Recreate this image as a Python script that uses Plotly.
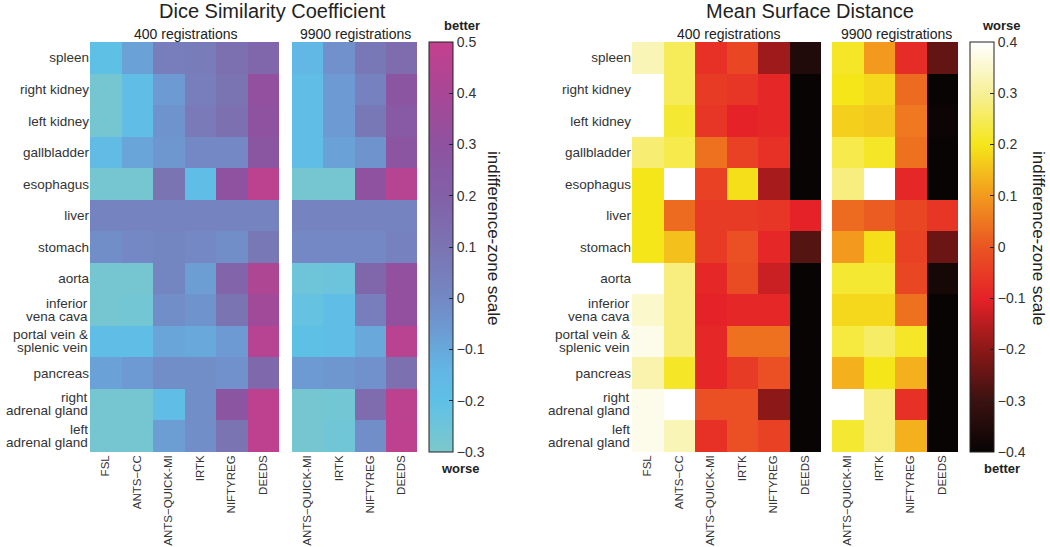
import plotly.graph_objects as go

organs = ["spleen", "right kidney", "left kidney", "gallbladder", "esophagus", "liver",
          "stomach", "aorta", "inferior<br>vena cava", "portal vein &<br>splenic vein",
          "pancreas", "right<br>adrenal gland", "left<br>adrenal gland"]
methods_400 = ["FSL", "ANTS\u2212CC", "ANTS\u2212QUICK-MI", "IRTK", "NIFTYREG", "DEEDS"]
methods_9900 = ["ANTS\u2212QUICK-MI", "IRTK", "NIFTYREG", "DEEDS"]

# Dice similarity coefficient, indifference-zone scale
dsc_400 = [
    [-0.20, -0.08, 0.05, 0.06, 0.12, 0.17],
    [-0.28, -0.18, -0.06, 0.05, 0.10, 0.32],
    [-0.28, -0.18, -0.04, 0.07, 0.12, 0.30],
    [-0.17, -0.09, -0.05, 0.00, 0.00, 0.27],
    [-0.28, -0.28, 0.10, -0.18, 0.30, 0.47],
    [0.02, 0.02, 0.02, 0.02, 0.02, 0.02],
    [-0.02, 0.00, 0.01, 0.00, -0.02, 0.08],
    [-0.28, -0.28, 0.01, -0.07, 0.18, 0.42],
    [-0.28, -0.27, -0.02, -0.04, 0.10, 0.37],
    [-0.18, -0.18, -0.09, -0.10, -0.06, 0.45],
    [-0.08, -0.06, -0.02, -0.02, -0.03, 0.16],
    [-0.28, -0.28, -0.18, -0.02, 0.28, 0.48],
    [-0.28, -0.28, -0.07, -0.02, 0.10, 0.48],
]
dsc_9900 = [
    [-0.15, -0.03, 0.08, 0.14],
    [-0.18, -0.06, 0.03, 0.28],
    [-0.18, -0.06, 0.08, 0.25],
    [-0.18, -0.08, -0.04, 0.28],
    [-0.28, -0.28, 0.30, 0.45],
    [0.02, 0.02, 0.02, 0.02],
    [0.00, 0.00, 0.00, 0.03],
    [-0.25, -0.24, 0.17, 0.32],
    [-0.22, -0.18, 0.05, 0.32],
    [-0.20, -0.18, -0.10, 0.46],
    [-0.06, -0.05, -0.03, 0.12],
    [-0.28, -0.27, 0.14, 0.47],
    [-0.28, -0.26, -0.02, 0.48],
]

# Mean surface distance, indifference-zone scale
msd_400 = [
    [0.33, 0.25, -0.07, -0.03, -0.18, -0.35],
    [0.40, 0.25, -0.05, -0.06, -0.09, -0.40],
    [0.40, 0.22, -0.06, -0.10, -0.09, -0.40],
    [0.27, 0.24, 0.04, -0.04, -0.07, -0.40],
    [0.20, 0.40, -0.04, 0.19, -0.17, -0.40],
    [0.20, 0.03, -0.05, -0.05, -0.06, -0.10],
    [0.20, 0.15, -0.05, -0.01, -0.09, -0.27],
    [0.40, 0.28, -0.09, -0.02, -0.13, -0.40],
    [0.35, 0.28, -0.10, -0.09, -0.09, -0.40],
    [0.38, 0.28, -0.09, 0.04, 0.04, -0.40],
    [0.32, 0.21, -0.09, -0.05, -0.01, -0.40],
    [0.38, 0.40, -0.01, -0.01, -0.20, -0.40],
    [0.38, 0.33, -0.07, -0.01, -0.04, -0.40],
]
msd_9900 = [
    [0.21, 0.10, -0.08, -0.25],
    [0.20, 0.18, 0.03, -0.40],
    [0.17, 0.16, 0.05, -0.39],
    [0.24, 0.21, 0.04, -0.40],
    [0.28, 0.40, -0.09, -0.40],
    [0.03, 0.01, -0.03, -0.06],
    [0.10, 0.19, -0.04, -0.24],
    [0.22, 0.22, -0.03, -0.37],
    [0.18, 0.18, 0.04, -0.40],
    [0.23, 0.26, 0.21, -0.40],
    [0.13, 0.20, 0.13, -0.40],
    [0.40, 0.28, -0.07, -0.40],
    [0.22, 0.28, 0.13, -0.40],
]

dsc_ticks = [-0.3, -0.2, -0.1, 0, 0.1, 0.2, 0.3, 0.4, 0.5]
msd_ticks = [-0.4, -0.3, -0.2, -0.1, 0, 0.1, 0.2, 0.3, 0.4]

dsc_scale = [
    [0.0, "#7cc8cc"], [0.125, "#5fc0e6"], [0.2, "#62b6e4"], [0.3, "#6d9ad2"],
    [0.375, "#7388c4"], [0.5, "#7b74b2"], [0.625, "#8260a8"], [0.75, "#8e52a0"],
    [0.875, "#a84796"], [1.0, "#c4408e"],
]
msd_scale = [
    [0.0, "#080404"], [0.125, "#3a1210"], [0.25, "#8c1818"], [0.375, "#e52228"],
    [0.5, "#ea5522"], [0.625, "#f39a1e"], [0.75, "#f5e61a"], [0.875, "#f7f098"],
    [1.0, "#ffffff"],
]

FONT = "Liberation Sans, Arial, sans-serif"
W, H = 1050, 547


def px(x):
    return x / W


def py(y):
    return 1 - y / H


def fmt(v):
    return f"{v:g}".replace("-", "\u2212")


fig = go.Figure()
fig.add_trace(go.Heatmap(z=dsc_400, x=methods_400, y=organs, coloraxis="coloraxis",
                         xaxis="x", yaxis="y"))
fig.add_trace(go.Heatmap(z=dsc_9900, x=methods_9900, y=organs, coloraxis="coloraxis",
                         xaxis="x2", yaxis="y2"))
fig.add_trace(go.Heatmap(z=msd_400, x=methods_400, y=organs, coloraxis="coloraxis2",
                         xaxis="x3", yaxis="y3"))
fig.add_trace(go.Heatmap(z=msd_9900, x=methods_9900, y=organs, coloraxis="coloraxis2",
                         xaxis="x4", yaxis="y4"))

ydom = [py(452), py(42)]
xdoms = [(90, 279), (292, 417), (632, 821), (832, 958)]
tickfont_x = dict(size=11.5, color="#333", family=FONT)
tickfont_y = dict(size=13.5, color="#333", family=FONT)

# two-line organ names get tighter line spacing via annotations
single_text = ["" if "<br>" in o else o for o in organs]

layout = {}
for i, (a, b) in enumerate(xdoms, start=1):
    sfx = "" if i == 1 else str(i)
    layout["xaxis" + sfx] = dict(domain=[px(a), px(b)], anchor="y" + sfx, tickangle=-90,
                                 tickfont=tickfont_x, showgrid=False, zeroline=False,
                                 ticks="", showline=False)
    layout["yaxis" + sfx] = dict(domain=ydom, anchor="x" + sfx, autorange="reversed",
                                 showticklabels=(i in (1, 3)), tickfont=tickfont_y,
                                 tickvals=organs, ticktext=single_text,
                                 showgrid=False, zeroline=False, ticks="")

cb_common = dict(thickness=24, len=410, lenmode="pixels", yanchor="top", y=py(42),
                 xanchor="left", xpad=0, ypad=0, outlinecolor="#222", outlinewidth=1,
                 ticks="inside", ticklen=4, tickcolor="#222",
                 tickfont=dict(size=14, color="#333", family=FONT))

fig.update_layout(
    width=W, height=H,
    margin=dict(l=0, r=0, t=0, b=0),
    paper_bgcolor="white", plot_bgcolor="white",
    font=dict(family=FONT, color="#333"),
    coloraxis=dict(colorscale=dsc_scale, cmin=-0.3, cmax=0.5,
                   colorbar=dict(x=px(429), tickvals=dsc_ticks,
                                 ticktext=[fmt(v) for v in dsc_ticks], **cb_common)),
    coloraxis2=dict(colorscale=msd_scale, cmin=-0.4, cmax=0.4,
                    colorbar=dict(x=px(970), tickvals=msd_ticks,
                                  ticktext=[fmt(v) for v in msd_ticks], **cb_common)),
    **layout,
)

for xr, yr in (("x domain", "y"), ("x3 domain", "y3")):
    for o in organs:
        if "<br>" not in o:
            continue
        top, bottom = o.split("<br>")
        for line, shift in ((top, 6.5), (bottom, -6.5)):
            fig.add_annotation(text=line, xref=xr, x=0, yref=yr, y=o, xanchor="right",
                               yanchor="middle", xshift=0, yshift=shift, showarrow=False,
                               font=tickfont_y)


def note(text, x, y, size=12, angle=0, bold=False):
    if bold:
        text = f"<b>{text}</b>"
    fig.add_annotation(text=text, x=px(x), y=py(y), xref="paper", yref="paper",
                       showarrow=False, textangle=angle, xanchor="center", yanchor="middle",
                       font=dict(size=size, color="#222", family=FONT))


note("Dice Similarity Coefficient", 272, 11, size=20)
note("Mean Surface Distance", 810, 11, size=20)
note("400 registrations", 186, 34, size=14)
note("9900 registrations", 355, 34, size=14)
note("400 registrations", 729, 34, size=14)
note("9900 registrations", 896, 34, size=14)
note("better", 462, 26, size=13, bold=True)
note("worse", 461, 468, size=13, bold=True)
note("worse", 1001, 26, size=13, bold=True)
note("better", 1002, 468, size=13, bold=True)
note("indifference-zone scale", 494, 238, size=17, angle=90)
note("indifference-zone scale", 1039, 238, size=17, angle=90)

fig.write_html("out.html", config={"displayModeBar": False},
               post_script="document.body.style.margin='0';")
